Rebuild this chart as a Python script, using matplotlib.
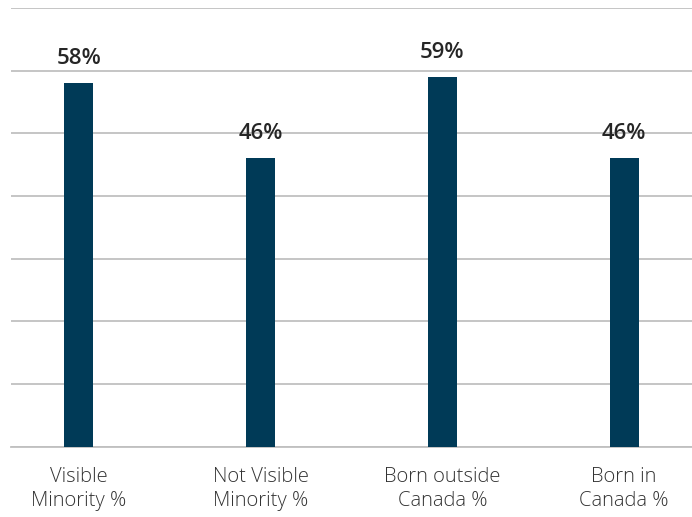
import matplotlib.pyplot as plt

# share of each group
categories = ['Visible\nMinority %', 'Not Visible\nMinority %', 'Born outside\nCanada %', 'Born in\nCanada %']
values = [58, 46, 59, 46]
value_labels = ['58%', '46%', '59%', '46%']

plt.rcParams['font.family'] = ['Open Sans', 'DejaVu Sans']

fig = plt.figure(figsize=(6.92, 5.17), dpi=100)
ax = fig.add_axes([11 / 692, 70.5 / 517, 681 / 692, 438.5 / 517])

x = range(len(categories))
ax.bar(x, values, width=0.16, color='#003a57', zorder=3)

for xi, v, lab in zip(x, values, value_labels):
    ax.annotate(lab, (xi, v), xytext=(0, 10), textcoords='offset points',
                ha='center', va='bottom', fontsize=16, fontweight='semibold',
                color='#262626')

ax.set_xlim(-0.374, 3.374)
ax.set_ylim(0, 70)
ax.set_yticks(range(0, 71, 10))
ax.yaxis.grid(True, color='#c0c0c0', linewidth=1.3, zorder=0)
ax.tick_params(axis='y', left=False, labelleft=False)

ax.set_xticks(list(x))
ax.set_xticklabels(categories, fontsize=14.5, fontweight='light', color='#333333',
                   linespacing=1.25)
ax.tick_params(axis='x', length=0, pad=15)

for side in ['top', 'right', 'left']:
    ax.spines[side].set_visible(False)
ax.spines['bottom'].set_color('#c0c0c0')
ax.spines['bottom'].set_linewidth(1.3)

fig.savefig('out.png', dpi=100)
